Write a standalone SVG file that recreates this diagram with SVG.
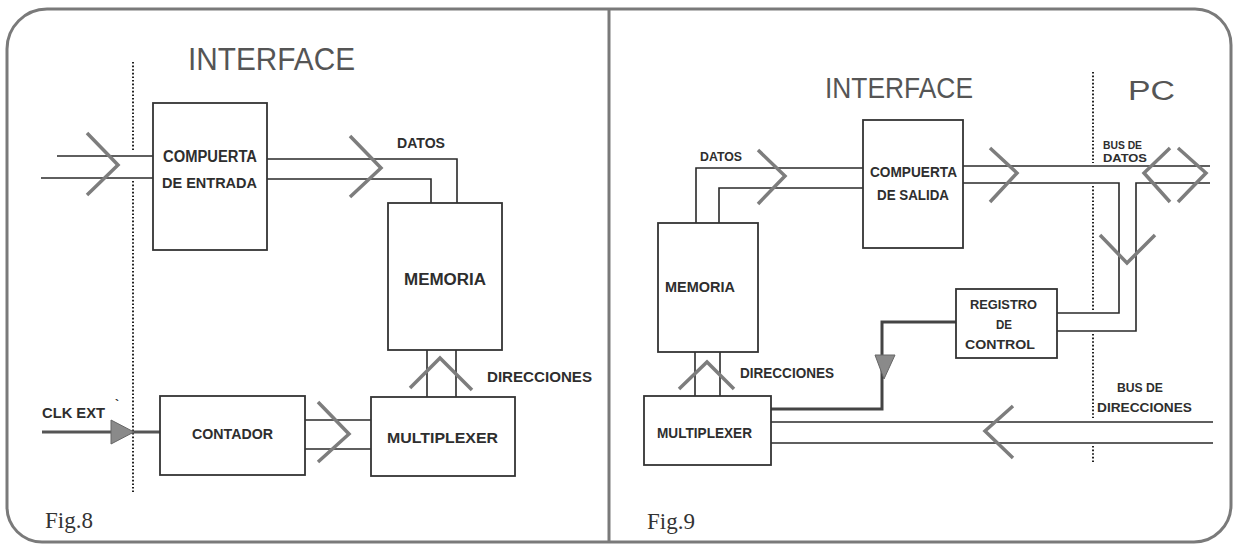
<svg xmlns="http://www.w3.org/2000/svg" width="1234" height="550" viewBox="0 0 1234 550">
<defs>
<style>
.frame{fill:none;stroke:#7a7a7a;stroke-width:3}
.box{fill:#fff;stroke:#333;stroke-width:1.8}
.wire{fill:none;stroke:#2a2a2a;stroke-width:1.6}
.thick{fill:none;stroke:#555;stroke-width:3}
.chev{fill:none;stroke:#7d7d7d;stroke-width:3.5;stroke-linejoin:miter}
.dot{fill:none;stroke:#222;stroke-width:2;stroke-dasharray:1.6 2}
.lbl{font-family:"Liberation Sans",Arial,sans-serif;font-weight:bold;fill:#2e2e2e}
.title{font-family:"Liberation Sans",Arial,sans-serif;fill:#555}
.fig{font-family:"Liberation Serif","Times New Roman",serif;fill:#333}
</style>
</defs>
<rect x="0" y="0" width="1234" height="550" fill="#fff"/>
<g id="frame">
<path class="frame" d="M47,9 H1195 A36,36 0 0 1 1231,45 V505 A37,37 0 0 1 1194,542 H42 A35,35 0 0 1 7,507 V49 A40,40 0 0 1 47,9 Z"/>
<line class="frame" x1="609" y1="9" x2="609" y2="542" stroke-width="4"/>
</g>

<!-- ============ Fig.8 ============ -->
<g id="fig8-labels">
<text class="title" x="188" y="70" font-size="32" textLength="167" lengthAdjust="spacingAndGlyphs">INTERFACE</text>
<text class="fig" x="45" y="528" font-size="23">Fig.8</text>
<text class="lbl" x="397" y="148" font-size="14" textLength="48" lengthAdjust="spacingAndGlyphs">DATOS</text>
<text class="lbl" x="487" y="382" font-size="14" textLength="105" lengthAdjust="spacingAndGlyphs">DIRECCIONES</text>
<text class="lbl" x="42" y="418" font-size="14" textLength="63" lengthAdjust="spacingAndGlyphs">CLK EXT</text>
<text class="lbl" x="115" y="409" font-size="12">`</text>
</g>
<g id="fig8-connectors">
<line class="dot" x1="133" y1="62" x2="133" y2="152"/>
<line class="dot" x1="133" y1="181" x2="133" y2="492"/>
<line class="wire" x1="57" y1="156" x2="153" y2="156"/>
<line class="wire" x1="41" y1="178" x2="153" y2="178"/>
<polyline class="chev" points="87,133 118,165 87,195"/>
<polyline class="wire" points="267,159 457,159 457,203"/>
<polyline class="wire" points="267,179 431,179 431,203"/>
<polyline class="chev" points="350,136 381,168 350,197"/>
<line class="wire" x1="427" y1="350" x2="427" y2="397"/>
<line class="wire" x1="456" y1="350" x2="456" y2="397"/>
<polyline class="chev" points="410,388 440,358 472,390"/>
<line class="wire" x1="305" y1="420" x2="371" y2="420"/>
<line class="wire" x1="305" y1="449" x2="371" y2="449"/>
<polyline class="chev" points="318,402 349,434 318,462"/>
<line class="thick" x1="42" y1="432" x2="160" y2="432" stroke="#666"/>
<polygon points="111,420 111,444 134,432" fill="#8a8a8a" stroke="#666" stroke-width="1"/>
</g>
<g id="compuerta-entrada">
<rect class="box" x="153" y="103" width="114" height="147"/>
<text class="lbl" x="163" y="162" font-size="16" textLength="94" lengthAdjust="spacingAndGlyphs">COMPUERTA</text>
<text class="lbl" x="162" y="188" font-size="15" textLength="95" lengthAdjust="spacingAndGlyphs">DE ENTRADA</text>
</g>
<g id="memoria-8">
<rect class="box" x="388" y="203" width="114" height="147"/>
<text class="lbl" x="404" y="285" font-size="16" textLength="82" lengthAdjust="spacingAndGlyphs">MEMORIA</text>
</g>
<g id="contador">
<rect class="box" x="160" y="396" width="145" height="79"/>
<text class="lbl" x="192" y="439" font-size="15" textLength="81" lengthAdjust="spacingAndGlyphs">CONTADOR</text>
</g>
<g id="multiplexer-8">
<rect class="box" x="371" y="397" width="144" height="79"/>
<text class="lbl" x="387" y="443" font-size="15" textLength="111" lengthAdjust="spacingAndGlyphs">MULTIPLEXER</text>
</g>

<!-- ============ Fig.9 ============ -->
<g id="fig9-labels">
<text class="title" x="825" y="98" font-size="29" textLength="148" lengthAdjust="spacingAndGlyphs">INTERFACE</text>
<text class="title" x="1128" y="100" font-size="27" textLength="47" lengthAdjust="spacingAndGlyphs">PC</text>
<text class="fig" x="647" y="529" font-size="23">Fig.9</text>
<text class="lbl" x="700" y="161" font-size="13" textLength="42" lengthAdjust="spacingAndGlyphs">DATOS</text>
<text class="lbl" x="1103" y="149" font-size="11" textLength="39" lengthAdjust="spacingAndGlyphs">BUS DE</text>
<text class="lbl" x="1103" y="162" font-size="11" textLength="44" lengthAdjust="spacingAndGlyphs">DATOS</text>
<text class="lbl" x="740" y="378" font-size="14" textLength="94" lengthAdjust="spacingAndGlyphs">DIRECCIONES</text>
<text class="lbl" x="1117" y="392" font-size="13" textLength="46" lengthAdjust="spacingAndGlyphs">BUS DE</text>
<text class="lbl" x="1097" y="412" font-size="13" textLength="95" lengthAdjust="spacingAndGlyphs">DIRECCIONES</text>
</g>
<g id="fig9-connectors">
<line class="dot" x1="1093" y1="72" x2="1093" y2="163"/>
<line class="dot" x1="1093" y1="186" x2="1093" y2="310"/>
<line class="dot" x1="1093" y1="334" x2="1093" y2="418"/>
<line class="dot" x1="1093" y1="446" x2="1093" y2="462"/>
<polyline class="wire" points="863,168 696,168 696,223"/>
<polyline class="wire" points="863,188 719,188 719,223"/>
<polyline class="chev" points="758,150 785,176 758,204"/>
<line class="wire" x1="963" y1="166" x2="1210" y2="166"/>
<polyline class="wire" points="963,183 1119,183 1119,313 1057,313"/>
<polyline class="wire" points="1210,183 1136,183 1136,331 1057,331"/>
<polyline class="chev" points="990,148 1017,173 990,202"/>
<polyline class="chev" points="1100,235 1127,263 1155,235"/>
<polyline class="chev" points="1170,148 1144,173 1170,202"/>
<polyline class="chev" points="1178,148 1206,173 1178,202"/>
<line class="wire" x1="695" y1="352" x2="695" y2="396"/>
<line class="wire" x1="720" y1="352" x2="720" y2="396"/>
<polyline class="chev" points="679,389 707,362 734,389"/>
<polyline points="771,409 882,409 882,322 956,322" fill="none" stroke="#444" stroke-width="3"/>
<polygon points="875,355 895,355 884,379" fill="#8a8a8a" stroke="#666" stroke-width="1"/>
<line class="wire" x1="771" y1="422" x2="1213" y2="422"/>
<line class="wire" x1="771" y1="443" x2="1213" y2="443"/>
<polyline class="chev" points="1013,406 985,431 1013,458"/>
</g>
<g id="compuerta-salida">
<rect class="box" x="863" y="120" width="100" height="128"/>
<text class="lbl" x="870" y="177" font-size="14" textLength="87" lengthAdjust="spacingAndGlyphs">COMPUERTA</text>
<text class="lbl" x="877" y="200" font-size="14" textLength="72" lengthAdjust="spacingAndGlyphs">DE SALIDA</text>
</g>
<g id="memoria-9">
<rect class="box" x="658" y="223" width="100" height="129"/>
<text class="lbl" x="665" y="292" font-size="14" textLength="70" lengthAdjust="spacingAndGlyphs">MEMORIA</text>
</g>
<g id="multiplexer-9">
<rect class="box" x="644" y="396" width="127" height="69"/>
<text class="lbl" x="657" y="438" font-size="14" textLength="95" lengthAdjust="spacingAndGlyphs">MULTIPLEXER</text>
</g>
<g id="registro-control">
<rect class="box" x="956" y="289" width="101" height="69"/>
<text class="lbl" x="970" y="309" font-size="12" textLength="67" lengthAdjust="spacingAndGlyphs">REGISTRO</text>
<text class="lbl" x="996" y="329" font-size="12" textLength="16" lengthAdjust="spacingAndGlyphs">DE</text>
<text class="lbl" x="965" y="349" font-size="12" textLength="70" lengthAdjust="spacingAndGlyphs">CONTROL</text>
</g>
</svg>
